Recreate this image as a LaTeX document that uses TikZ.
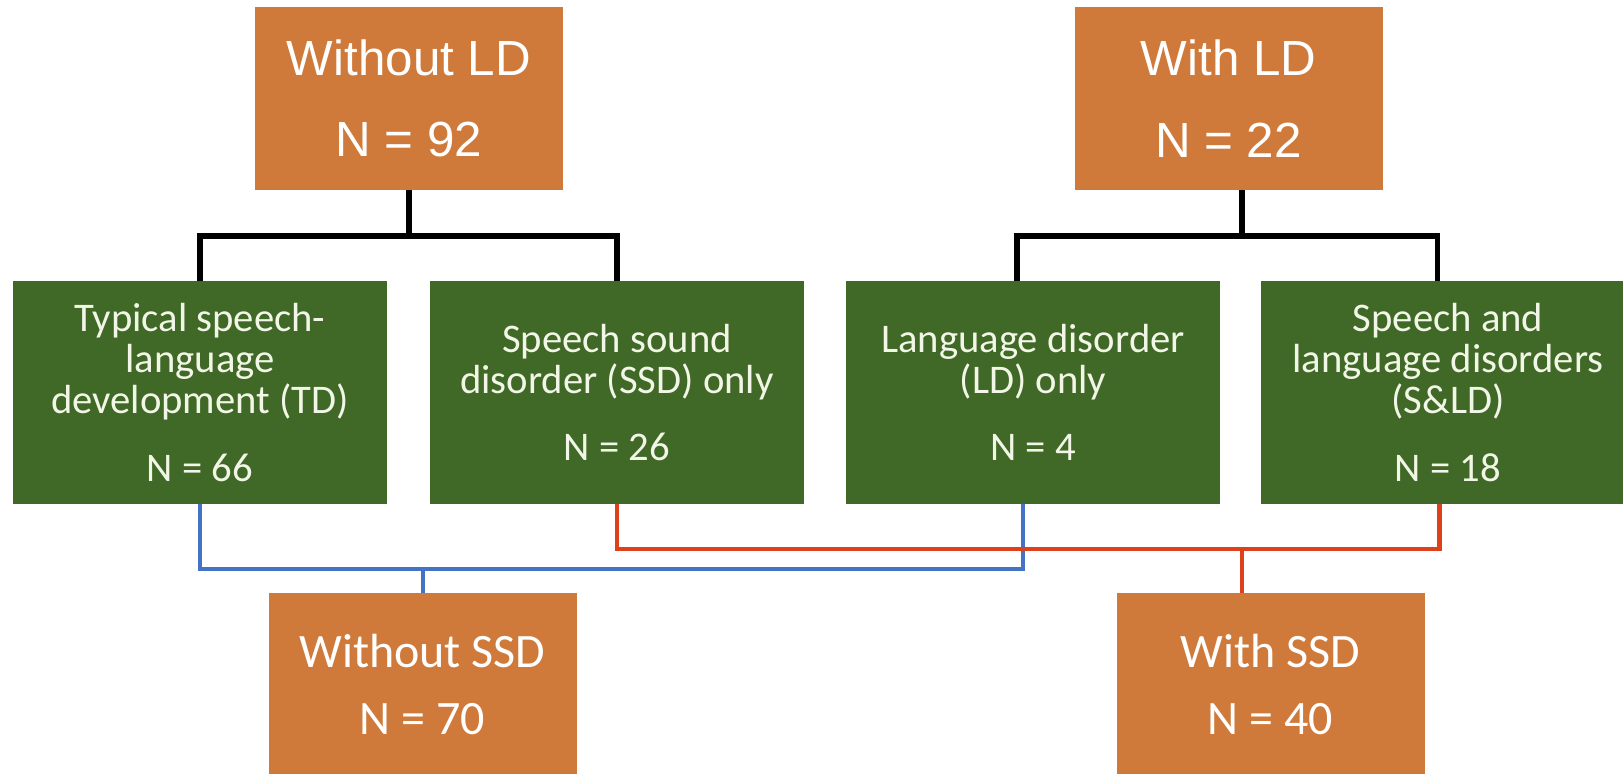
\documentclass[tikz,border=0pt]{standalone}
\usepackage{fontspec}
\setmainfont{Liberation Sans}
\newfontfamily\narrowfont{Carlito}

\definecolor{ldorange}{RGB}{207,122,58}
\definecolor{ldgreen}{RGB}{64,104,38}
\definecolor{ssdblue}{RGB}{68,114,196}
\definecolor{ssdred}{RGB}{221,64,27}
\definecolor{boxtext}{RGB}{242,246,230}

\tikzset{
	ldbox/.style={fill=ldorange, text=white, inner sep=0pt, minimum width=231pt, minimum height=137pt, align=center, font=\fontsize{37}{61}\selectfont},
	ssdbox/.style={fill=ldorange, text=white, inner sep=0pt, minimum width=231pt, minimum height=137pt, align=center, font=\narrowfont\fontsize{36}{50}\selectfont},
	groupbox/.style={fill=ldgreen, text=boxtext, inner sep=0pt, minimum width=280pt, minimum height=167pt, align=center, font=\narrowfont\fontsize{30.5}{30.75}\selectfont},
	split/.style={draw=black, line width=4pt},
	nossd/.style={draw=ssdblue, line width=3.6pt},
	withssd/.style={draw=ssdred, line width=3.6pt},
}

\begin{document}
\begin{tikzpicture}[x=0.75pt, y=-0.75pt]
		\useasboundingbox (0,0) rectangle (1623,774);
		\clip (0,0) rectangle (1623,774);
		\node[ldbox] (wold) at (409,98.5) {Without LD\\N = 92};
		\node[ldbox] (wld) at (1228.5,98.5) {With LD\\N = 22};
		\node[groupbox] (td) at (200,392.5) {Typical speech-\\language\\development (TD)\\[20pt]N = 66};
		\node[groupbox] (ssd) at (617,392.5) {Speech sound\\disorder (SSD) only\\[20pt]N = 26};
		\node[groupbox] (ldo) at (1033,392.5) {Language disorder\\(LD) only\\[20pt]N = 4};
		\node[groupbox] (sld) at (1448,392.5) {Speech and\\language disorders\\(S\&LD)\\[20pt]N = 18};
		\node[ssdbox] (wossd) at (422.5,684.5) {Without SSD\\N = 70};
		\node[ssdbox] (wssd) at (1270.5,684.5) {With SSD\\N = 40};
		\coordinate (woldsplit) at (409,236);
		\coordinate (wldsplit) at (1242,236);
		\coordinate (wossdsplit) at (423,569);
		\coordinate (wssdsplit) at (1242,549);
		\draw[split] (wold.south) -- (woldsplit);
		\draw[split] (td.north) |- (woldsplit) -| (ssd.north);
		\draw[split] (wldsplit |- wld.south) -- (wldsplit);
		\draw[split] ([xshift=-12pt]ldo.north) |- (wldsplit) -| ([xshift=-8pt]sld.north);
		\draw[nossd] (td.south) |- (wossdsplit) -| ([xshift=-7.5pt]ldo.south);
		\draw[nossd] (wossdsplit) -- (wossdsplit |- wossd.north);
		\draw[withssd] (ssd.south) |- (wssdsplit) -| ([xshift=-6.5pt]sld.south);
		\draw[withssd] (wssdsplit) -- (wssdsplit |- wssd.north);
	\end{tikzpicture}
\end{document}
